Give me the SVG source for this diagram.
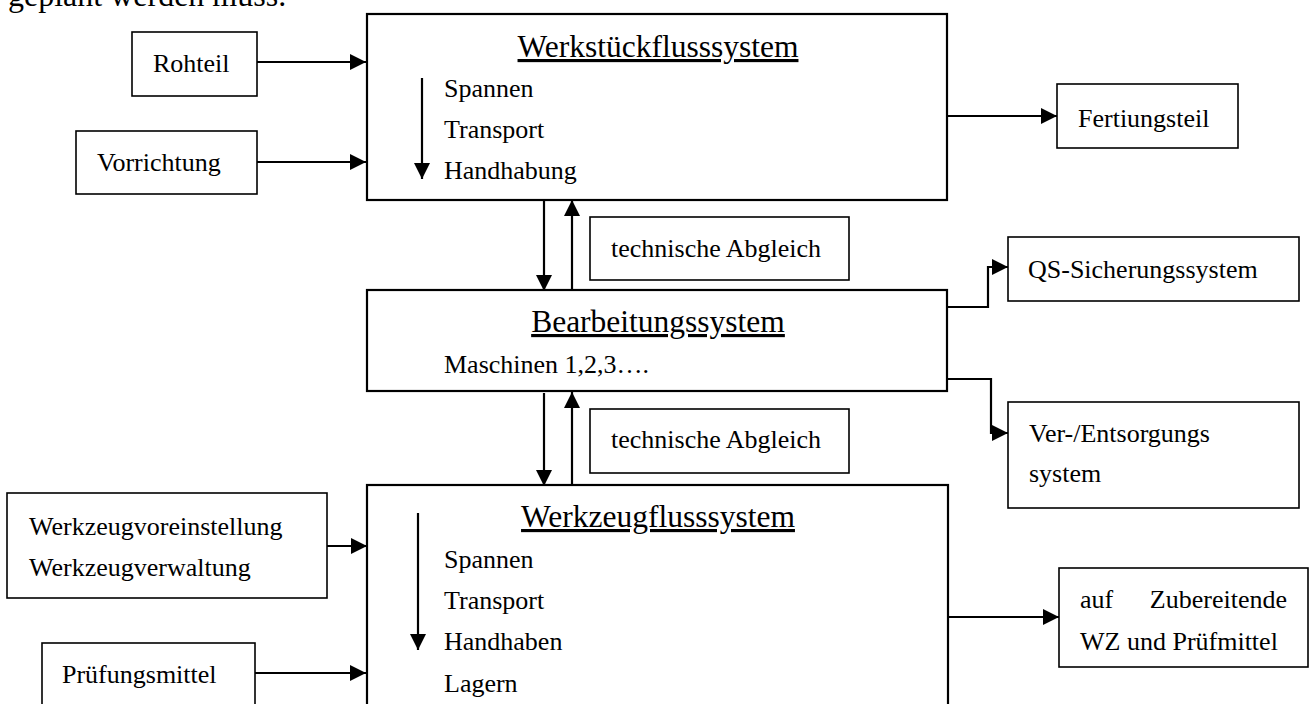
<svg xmlns="http://www.w3.org/2000/svg" width="1310" height="704" viewBox="0 0 1310 704">
<style>
text{font-family:"Liberation Serif","Times New Roman",serif;fill:#000}
.b{font-size:26px}
.t{font-size:31.5px;text-anchor:middle;text-decoration:underline}
.big{fill:#fff;stroke:#000;stroke-width:2.2}
.sm{fill:#fff;stroke:#000;stroke-width:1.6}
.c{fill:none;stroke:#000;stroke-width:2.2}
</style>
<defs>
<marker id="ah" markerWidth="8" markerHeight="8" viewBox="0 0 16 16" refX="16" refY="8" orient="auto" markerUnits="userSpaceOnUse">
<path d="M0,0 L16,8 L0,16 Z" fill="#000"/>
</marker>
<marker id="ah2" markerWidth="16" markerHeight="16" viewBox="0 0 16 16" refX="16" refY="8" orient="auto" markerUnits="userSpaceOnUse">
<path d="M0,0 L16,8 L0,16 Z" fill="#000"/>
</marker>
</defs>
<rect width="1310" height="704" fill="#fff"/>
<text x="8" y="6" style="font-size:32px">geplant werden muss.</text>

<g id="werkstueck">
<rect class="big" x="367" y="14" width="580" height="186"/>
<text class="t" x="658" y="57">Werkstückflusssystem</text>
<line class="c" x1="422" y1="78" x2="422" y2="179" marker-end="url(#ah2)"/>
<text class="b" x="444" y="97">Spannen</text>
<text class="b" x="444" y="138">Transport</text>
<text class="b" x="444" y="179">Handhabung</text>
</g>
<g id="rohteil"><rect class="sm" x="132" y="32" width="125" height="64"/><text class="b" x="153" y="72">Rohteil</text></g>
<g id="vorrichtung"><rect class="sm" x="76" y="131" width="181" height="63"/><text class="b" x="97" y="171">Vorrichtung</text></g>
<g id="fertigungsteil"><rect class="sm" x="1057" y="84" width="181" height="64"/><text class="b" x="1078" y="127">Fertiungsteil</text></g>
<g id="abgleich1"><rect class="sm" x="590" y="217" width="259" height="63"/><text class="b" x="611" y="257">technische Abgleich</text></g>
<g id="qs"><rect class="sm" x="1008" y="237" width="291" height="64"/><text class="b" x="1028" y="278">QS-Sicherungssystem</text></g>
<g id="bearbeitung">
<rect class="big" x="367" y="290" width="580" height="101"/>
<text class="t" x="658" y="332">Bearbeitungssystem</text>
<text class="b" x="444" y="373">Maschinen 1,2,3….</text>
</g>
<g id="ver"><rect class="sm" x="1008" y="402" width="291" height="106"/><text class="b" x="1029" y="442">Ver-/Entsorgungs</text><text class="b" x="1029" y="482">system</text></g>
<g id="abgleich2"><rect class="sm" x="590" y="409" width="259" height="64"/><text class="b" x="611" y="448">technische Abgleich</text></g>
<g id="werkzeug">
<rect class="big" x="367" y="485" width="581" height="240"/>
<text class="t" x="658" y="527">Werkzeugflusssystem</text>
<line class="c" x1="418" y1="513" x2="418" y2="650" marker-end="url(#ah2)"/>
<text class="b" x="444" y="568">Spannen</text>
<text class="b" x="444" y="609">Transport</text>
<text class="b" x="444" y="650">Handhaben</text>
<text class="b" x="444" y="692">Lagern</text>
</g>
<g id="voreinstellung"><rect class="sm" x="7" y="493" width="320" height="105"/><text class="b" x="29" y="535">Werkzeugvoreinstellung</text><text class="b" x="29" y="576">Werkzeugverwaltung</text></g>
<g id="pruefungsmittel"><rect class="sm" x="42" y="643" width="213" height="80"/><text class="b" x="62" y="683">Prüfungsmittel</text></g>
<g id="zubereitende"><rect class="sm" x="1059" y="568" width="249" height="99"/><text class="b" x="1080" y="608">auf</text><text class="b" x="1287" y="608" text-anchor="end">Zubereitende</text><text class="b" x="1080" y="650">WZ und Prüfmittel</text></g>

<g id="connectors">
<line class="c" x1="257" y1="62" x2="366" y2="62" marker-end="url(#ah2)"/>
<line class="c" x1="257" y1="162" x2="366" y2="162" marker-end="url(#ah2)"/>
<line class="c" x1="947" y1="116" x2="1057" y2="116" marker-end="url(#ah2)"/>
<polyline class="c" points="947,307 988,307 988,267 1008,267" marker-end="url(#ah2)"/>
<polyline class="c" points="947,379 991,379 991,433 1008,433" marker-end="url(#ah2)"/>
<line class="c" x1="544" y1="200" x2="544" y2="291" marker-end="url(#ah2)"/>
<line class="c" x1="572" y1="290" x2="572" y2="200" marker-end="url(#ah2)"/>
<line class="c" x1="544" y1="393" x2="544" y2="486" marker-end="url(#ah2)"/>
<line class="c" x1="572" y1="485" x2="572" y2="392" marker-end="url(#ah2)"/>
<line class="c" x1="327" y1="546" x2="367" y2="546" marker-end="url(#ah2)"/>
<line class="c" x1="255" y1="673" x2="366" y2="673" marker-end="url(#ah2)"/>
<line class="c" x1="948" y1="617" x2="1059" y2="617" marker-end="url(#ah2)"/>
</g>
</svg>
